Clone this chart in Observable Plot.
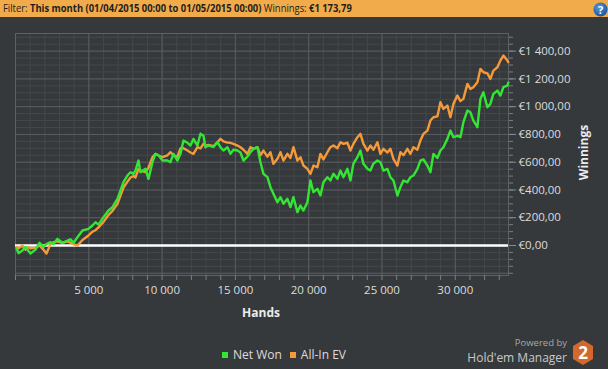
<!DOCTYPE html>
<html><head><meta charset="utf-8">
<script src="https://cdn.jsdelivr.net/npm/d3@7"></script>
<script src="https://cdn.jsdelivr.net/npm/@observablehq/plot@0.6"></script>
<style>
html,body{margin:0;padding:0;background:#36393c;width:608px;height:369px;overflow:hidden;font-family:"Open Sans",sans-serif;}
#header{position:absolute;left:0;top:0;width:608px;height:17px;background:#f2ab4a;font-size:10.5px;line-height:17px;color:#1e1e1e;white-space:nowrap;}
#header .t{position:absolute;left:3px;top:0;transform:scaleX(0.895);transform-origin:0 50%;}
#header b{font-weight:700;}
#help{position:absolute;left:593px;top:2px;}
#chart{position:absolute;left:0;top:17px;}
#xlabel{position:absolute;left:211px;width:100px;top:304px;text-align:center;font-size:12px;font-weight:700;color:#ececec;}
#ylabel{position:absolute;left:543px;width:80px;top:144px;text-align:center;font-size:12px;font-weight:700;color:#ececec;transform:rotate(-90deg);}
#legend{position:absolute;left:222px;top:346px;font-size:12px;color:#dcdcdc;white-space:nowrap;}
#legend span.sw{display:inline-block;width:6px;height:6px;margin-right:5px;vertical-align:1px;}
#legend span.item{margin-right:8px;}
#pby{position:absolute;right:41px;top:338px;font-size:9.5px;line-height:10px;color:#a8a8a8;white-space:nowrap;}
#hm{position:absolute;right:41px;top:351px;font-size:12px;line-height:13px;color:#c8c8c8;white-space:nowrap;}
#logo{position:absolute;left:572px;top:340px;}
</style></head>
<body>
<div id="header"><div class="t">Filter: <b>This month (01/04/2015 00:00 to 01/05/2015 00:00)</b> Winnings: <b>€1 173,79</b></div>
<svg id="help" width="15" height="15"><defs><radialGradient id="hg" cx="40%" cy="35%" r="70%"><stop offset="0" stop-color="#5a9be0"/><stop offset="1" stop-color="#174f95"/></radialGradient></defs><circle cx="7.5" cy="7.5" r="7" fill="url(#hg)"/><text x="7.5" y="11.5" text-anchor="middle" font-size="11" font-weight="700" fill="#fff" font-family="Open Sans">?</text></svg>
</div>
<div id="chart"></div>
<div id="xlabel">Hands</div>
<div id="ylabel">Winnings</div>
<div id="legend"><span class="item"><span class="sw" style="background:#33e633"></span>Net Won</span><span class="item"><span class="sw" style="background:#f59a3a"></span>All-In EV</span></div>
<div id="pby">Powered by</div>
<div id="hm">Hold'em Manager</div>
<svg id="logo" width="22" height="26"><polygon points="11,0 21,6 21,19 11,25 1,19 1,6" fill="#d2682c"/><text x="11" y="19" text-anchor="middle" font-size="17" font-weight="700" fill="#fff" font-family="Open Sans">2</text></svg>
<script>
const hands = [68,205,477,682,887,1023,1364,1637,1910,2114,2387,2592,2864,3205,3546,3751,3956,4228,4569,4979,5251,5456,5661,6002,6343,6615,6820,6956,7161,7366,7638,7843,8048,8184,8389,8525,8866,9071,9343,9548,9753,10025,10366,10571,10776,11048,11253,11458,11730,11935,12140,12412,12617,12822,12958,13163,13504,13776,13981,14186,14458,14663,14868,15140,15345,15550,15822,16027,16232,16504,16709,16914,17186,17391,17596,17868,18073,18278,18550,18755,18960,19232,19437,19642,19914,20119,20324,20596,20801,21006,21278,21483,21688,21960,22165,22370,22642,22847,23052,23324,23529,23734,24006,24211,24416,24688,24893,25098,25370,25575,25780,26052,26257,26462,26734,26939,27144,27416,27621,27826,28098,28303,28508,28780,28985,29190,29462,29667,29872,30144,30349,30554,30826,31031,31236,31508,31713,31918,32190,32395,32600,32872,33077,33282,33554,33620];
const netWon = [-20,-55,-35,-10,-40,-58,-30,20,-10,10,24,10,48,20,35,45,20,60,108,120,144,168,150,204,252,276,312,336,396,456,504,528,516,540,612,528,552,480,600,660,650,612,612,600,660,612,660,756,740,720,768,720,805,790,708,720,710,744,708,684,708,660,690,684,670,612,640,672,696,708,600,516,492,420,372,312,348,300,336,276,348,240,288,252,312,468,384,408,360,456,492,468,516,480,540,492,552,468,590,636,684,588,552,540,590,612,600,540,552,492,468,360,420,468,456,492,504,552,612,620,576,528,660,630,684,708,768,828,780,790,780,888,972,960,900,852,1056,1104,996,1020,1092,1116,1080,1140,1152,1174];
const allInEV = [-10,-20,0,-30,-10,-20,-15,0,-30,-58,10,24,30,20,30,20,10,0,40,72,100,110,130,170,220,250,280,300,360,418,460,490,500,490,552,540,528,560,636,660,648,636,650,672,650,640,700,700,684,670,660,708,700,732,720,725,715,744,768,750,741,740,732,720,708,690,660,708,696,708,650,684,640,672,588,624,672,612,660,630,708,612,636,576,552,516,576,564,660,620,672,708,720,700,744,732,740,684,732,780,804,732,684,720,690,744,660,696,670,696,624,576,672,650,696,660,708,690,756,804,828,900,924,930,1032,984,1008,924,1020,1080,1040,1056,1164,1128,1140,1176,1272,1248,1240,1200,1260,1284,1332,1368,1332,1320];
const seriesNames = ["Net Won", "All-In EV"];
const xMajorTicks = [5000,10000,15000,20000,25000,30000];
const yMajorTicks = [0,200,400,600,800,1000,1200,1400];

const xMinor = d3.range(0, 34000, 1000);
const yMinor = d3.range(-200, 1550, 50);
const xGridMajor = d3.range(0, 34000, 5000);
const yGridMajor = d3.range(-200, 1550, 200);

const data = [];
hands.forEach((h, i) => {
  data.push({hands: h, value: allInEV[i], series: seriesNames[1]});
});
hands.forEach((h, i) => {
  data.push({hands: h, value: netWon[i], series: seriesNames[0]});
});

const loc = d3.formatLocale({decimal: ",", thousands: "\u00a0", grouping: [3], currency: ["€", ""]});
const money = loc.format("$,.2f");
const num = loc.format(",");

const chart = Plot.plot({
  width: 608, height: 308,
  marginLeft: 15, marginRight: 100, marginTop: 16, marginBottom: 50,
  style: {background: "transparent", color: "#dcdcdc", fontFamily: "Open Sans", fontSize: "11.5px"},
  x: {domain: [0, 33630], label: null},
  y: {domain: [-216, 1527], label: null},
  color: {domain: seriesNames, range: ["#33e633", "#f59a3a"]},
  marks: [
    Plot.ruleX(xMinor, {stroke: "#45484b"}),
    Plot.ruleY(yMinor, {stroke: "#45484b"}),
    Plot.ruleX(xGridMajor, {stroke: "#595c5f"}),
    Plot.ruleY(yGridMajor, {stroke: "#595c5f"}),
    Plot.frame({stroke: "#5e6164"}),
    Plot.ruleY([0], {stroke: "#ffffff", strokeWidth: 2.5}),
    Plot.lineY(data, {x: "hands", y: "value", z: "series", stroke: "series", strokeWidth: 2.4, curve: "linear"}),
    Plot.axisX({ticks: xMinor, tickSize: 5, tickFormat: () => "", stroke: "#7a7d80", label: null}),
    Plot.axisX({ticks: xMajorTicks, tickSize: 0, tickPadding: 10, tickFormat: num, fill: "#dcdcdc", label: null}),
    Plot.axisY({anchor: "right", ticks: yMinor, tickSize: 4, tickFormat: () => "", stroke: "#7a7d80", label: null}),
    Plot.axisY({anchor: "right", ticks: yMajorTicks, tickSize: 7, tickPadding: 3, tickFormat: money, stroke: "#8a8d90", fill: "#dcdcdc", label: null})
  ]
});
document.getElementById("chart").appendChild(chart);
</script>
</body></html>
